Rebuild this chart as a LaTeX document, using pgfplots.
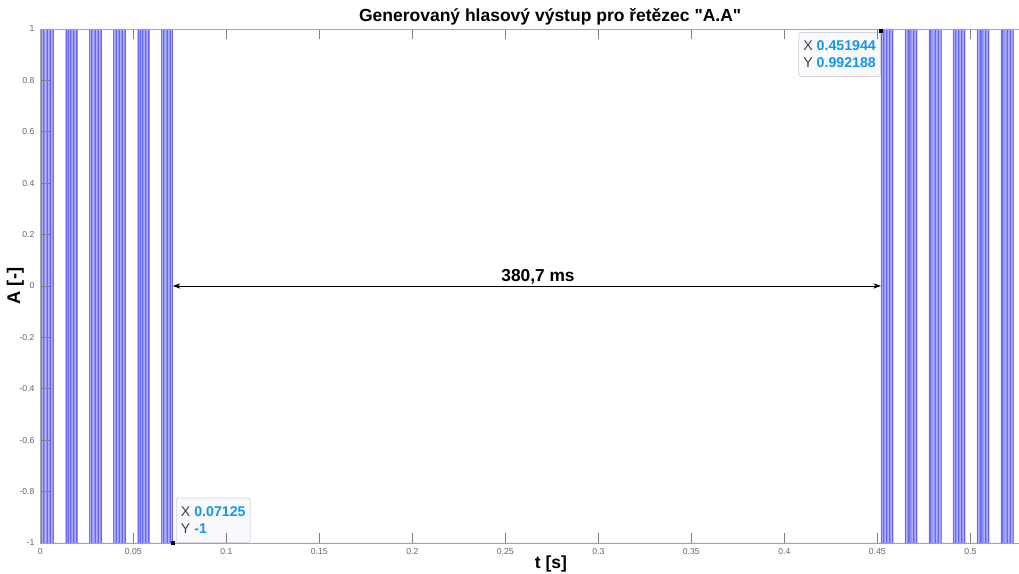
\documentclass[border=0pt]{standalone}
\usepackage{fontspec}
\setmainfont{Liberation Sans}
\usepackage{pgfplots}
\pgfplotsset{compat=1.18}
\usetikzlibrary{arrows.meta}
\definecolor{burstfill}{RGB}{150,150,246}
\definecolor{burstdark}{RGB}{70,70,240}
\definecolor{burstlight}{RGB}{176,176,252}
\definecolor{baseline}{RGB}{150,146,205}
\definecolor{tipval}{RGB}{20,150,230}
\definecolor{tiptxt}{RGB}{64,64,64}
\definecolor{axgray}{RGB}{165,165,165}
\begin{document}
\begin{tikzpicture}
\path[use as bounding box] (-24.2pt,-18.6pt) rectangle (587.2pt,325.8pt);
\begin{axis}[
  scale only axis,
  width=611.8pt, height=308.4pt,
  xmin=0, xmax=0.54823, ymin=-1, ymax=1,
  axis on top,
  axis line style={axgray, line width=0.5pt},
  tick align=inside, tick pos=both,
  major tick length=6pt,
  every tick/.style={black!50, line width=0.4pt},
  xtick={0,0.05,0.1,0.15,0.2,0.25,0.3,0.35,0.4,0.45,0.5},
  ytick={-1,-0.8,-0.6,-0.4,-0.2,0,0.2,0.4,0.6,0.8,1},
  /pgf/number format/assume math mode=true,
  /pgf/number format/fixed,
  /pgf/number format/precision=2,
  tick label style={font=\fontsize{5.2}{6}\selectfont, text=black!60},
  title={Generovaný hlasový výstup pro řetězec \textquotedbl A.A\textquotedbl},
  title style={font=\bfseries\fontsize{10.5}{12}\selectfont, at={(0.5,1)}, anchor=base, yshift=-1.8pt},
  xlabel={t [s]},
  xlabel style={font=\bfseries\fontsize{10.5}{12}\selectfont, at={(0.5008,-0.0418)}, anchor=center},
  ylabel={A [-]},
  ylabel style={font=\bfseries\fontsize{11}{12}\selectfont, at={(-0.02435,0.5)}, anchor=center},
]
% burst envelopes
\addplot[draw=none, fill=burstfill] coordinates {
 (0.0005,-1)(0.0005,1)(0.0072,1)(0.0072,-1)
 (0.0135,-1)(0.0135,1)(0.0202,1)(0.0202,-1)
 (0.0264,-1)(0.0264,1)(0.0331,1)(0.0331,-1)
 (0.0393,-1)(0.0393,1)(0.0460,1)(0.0460,-1)
 (0.0522,-1)(0.0522,1)(0.0589,1)(0.0589,-1)
 (0.0651,-1)(0.0651,1)(0.07125,1)(0.07125,-1)
 (0.45194,-1)(0.45194,1)(0.4587,1)(0.4587,-1)
 (0.4648,-1)(0.4648,1)(0.4716,1)(0.4716,-1)
 (0.4777,-1)(0.4777,1)(0.4845,1)(0.4845,-1)
 (0.4906,-1)(0.4906,1)(0.4974,1)(0.4974,-1)
 (0.5035,-1)(0.5035,1)(0.5103,1)(0.5103,-1)
 (0.5164,-1)(0.5164,1)(0.5231,1)(0.5231,-1)
} -- cycle;
% light lines inside bursts
\addplot[ycomb, burstlight, line width=0.6pt, mark=none] coordinates {
 (0.0013,1)(0.0028,1)(0.0045,1)(0.0061,1)
 (0.0143,1)(0.0158,1)(0.0175,1)(0.0191,1)
 (0.0272,1)(0.0287,1)(0.0304,1)(0.0320,1)
 (0.0401,1)(0.0416,1)(0.0433,1)(0.0449,1)
 (0.0530,1)(0.0545,1)(0.0562,1)(0.0578,1)
 (0.0659,1)(0.0674,1)(0.0691,1)(0.0707,1)
 (0.4527,1)(0.4542,1)(0.4559,1)(0.4575,1)
 (0.4656,1)(0.4671,1)(0.4688,1)(0.4704,1)
 (0.4785,1)(0.4800,1)(0.4817,1)(0.4833,1)
 (0.4914,1)(0.4929,1)(0.4946,1)(0.4962,1)
 (0.5043,1)(0.5058,1)(0.5075,1)(0.5091,1)
 (0.5172,1)(0.5187,1)(0.5204,1)(0.5220,1)
 (0.0013,-1)(0.0028,-1)(0.0045,-1)(0.0061,-1)
 (0.0143,-1)(0.0158,-1)(0.0175,-1)(0.0191,-1)
 (0.0272,-1)(0.0287,-1)(0.0304,-1)(0.0320,-1)
 (0.0401,-1)(0.0416,-1)(0.0433,-1)(0.0449,-1)
 (0.0530,-1)(0.0545,-1)(0.0562,-1)(0.0578,-1)
 (0.0659,-1)(0.0674,-1)(0.0691,-1)(0.0707,-1)
 (0.4527,-1)(0.4542,-1)(0.4559,-1)(0.4575,-1)
 (0.4656,-1)(0.4671,-1)(0.4688,-1)(0.4704,-1)
 (0.4785,-1)(0.4800,-1)(0.4817,-1)(0.4833,-1)
 (0.4914,-1)(0.4929,-1)(0.4946,-1)(0.4962,-1)
 (0.5043,-1)(0.5058,-1)(0.5075,-1)(0.5091,-1)
 (0.5172,-1)(0.5187,-1)(0.5204,-1)(0.5220,-1)
};
% dark lines inside bursts
\addplot[ycomb, burstdark, opacity=0.6, line width=0.55pt, mark=none] coordinates {
 (0.0007,1)(0.0019,1)(0.0036,1)(0.0053,1)(0.0069,1)
 (0.0139,1)(0.0153,1)(0.0162,1)(0.0180,1)(0.0196,1)
 (0.0265,1)(0.0275,1)(0.0298,1)(0.0314,1)(0.0330,1)
 (0.0395,1)(0.0407,1)(0.0424,1)(0.0441,1)(0.0457,1)
 (0.0526,1)(0.0540,1)(0.0549,1)(0.0567,1)(0.0583,1)
 (0.0652,1)(0.0662,1)(0.0685,1)(0.0701,1)(0.07125,1)
 (0.45214,1)(0.4533,1)(0.4550,1)(0.4567,1)(0.4583,1)
 (0.4652,1)(0.4666,1)(0.4675,1)(0.4693,1)(0.4709,1)
 (0.4778,1)(0.4788,1)(0.4811,1)(0.4827,1)(0.4843,1)
 (0.4908,1)(0.4920,1)(0.4937,1)(0.4954,1)(0.4970,1)
 (0.5039,1)(0.5053,1)(0.5062,1)(0.5080,1)(0.5096,1)
 (0.5165,1)(0.5175,1)(0.5198,1)(0.5214,1)(0.5230,1)
 (0.0007,-1)(0.0019,-1)(0.0036,-1)(0.0053,-1)(0.0069,-1)
 (0.0139,-1)(0.0153,-1)(0.0162,-1)(0.0180,-1)(0.0196,-1)
 (0.0265,-1)(0.0275,-1)(0.0298,-1)(0.0314,-1)(0.0330,-1)
 (0.0395,-1)(0.0407,-1)(0.0424,-1)(0.0441,-1)(0.0457,-1)
 (0.0526,-1)(0.0540,-1)(0.0549,-1)(0.0567,-1)(0.0583,-1)
 (0.0652,-1)(0.0662,-1)(0.0685,-1)(0.0701,-1)(0.07125,-1)
 (0.45214,-1)(0.4533,-1)(0.4550,-1)(0.4567,-1)(0.4583,-1)
 (0.4652,-1)(0.4666,-1)(0.4675,-1)(0.4693,-1)(0.4709,-1)
 (0.4778,-1)(0.4788,-1)(0.4811,-1)(0.4827,-1)(0.4843,-1)
 (0.4908,-1)(0.4920,-1)(0.4937,-1)(0.4954,-1)(0.4970,-1)
 (0.5039,-1)(0.5053,-1)(0.5062,-1)(0.5080,-1)(0.5096,-1)
 (0.5165,-1)(0.5175,-1)(0.5198,-1)(0.5214,-1)(0.5230,-1)
};
% signal resting at -1
\addplot[baseline, line width=0.5pt, mark=none] coordinates {(0,-1)(0.54823,-1)};
% measurement arrow
\addplot[black, line width=0.5pt, mark=none, {Stealth[length=4.5pt,width=3.2pt]}-{Stealth[length=4.5pt,width=3.2pt]}] coordinates {(0.07125,0)(0.451944,0)};
\node[anchor=base, font=\bfseries\fontsize{10.4}{12}\selectfont, yshift=2.8pt] at (axis cs:0.26758,0) {380,7 ms};
% data tips
\addplot[only marks, mark=square*, mark size=1pt, black] coordinates {(0.07125,-1)(0.451944,0.992188)};
\node[anchor=south west, xshift=1.8pt, fill={rgb,255:red,250;green,250;blue,253}, draw={rgb,255:red,212;green,212;blue,222}, line width=0.5pt, rounded corners=1.5pt, inner xsep=2.8pt, inner ysep=5.2pt, align=left, font=\fontsize{8.5}{10.4}\selectfont, text=tiptxt]
  at (axis cs:0.07125,-1) {X \textcolor{tipval}{\bfseries 0.07125}\\Y \textcolor{tipval}{\bfseries -1}};
\node[anchor=north east, yshift=-0.6pt, fill={rgb,255:red,250;green,250;blue,253}, draw={rgb,255:red,212;green,212;blue,222}, line width=0.5pt, rounded corners=1.5pt, inner xsep=2.8pt, inner ysep=5.0pt, align=left, font=\fontsize{8.5}{10.4}\selectfont, text=tiptxt]
  at (axis cs:0.451944,0.992188) {X \textcolor{tipval}{\bfseries 0.451944}\\Y \textcolor{tipval}{\bfseries 0.992188}};
\end{axis}
\end{tikzpicture}
\end{document}
